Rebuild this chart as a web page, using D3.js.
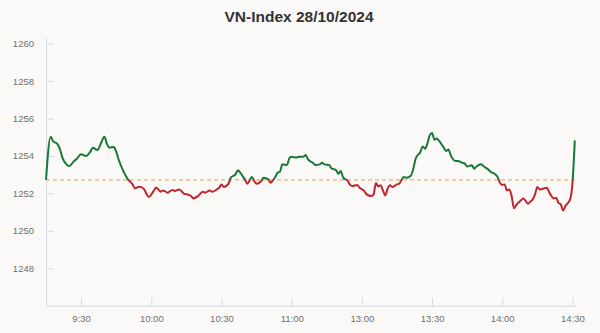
<!DOCTYPE html>
<html>
<head>
<meta charset="utf-8">
<script src="https://cdn.jsdelivr.net/npm/d3@7"></script>
<style>
  body { margin: 0; background: #faf9f7; }
  svg { display: block; font-family: "Liberation Sans", Arial, sans-serif; }
</style>
</head>
<body>
<div id="chart-area"></div>
<script>
// intraday VN-Index, one point per minute
const times = [
  "9:15","9:17","9:18","9:20","9:21","9:22","9:24","9:25","9:27","9:28",
  "9:30","9:32","9:34","9:35","9:37","9:38","9:40","9:41","9:42","9:44",
  "9:45","9:46","9:48","9:50","9:52","9:53","9:55","9:57","9:58","9:59",
  "10:01","10:02","10:03","10:04","10:05","10:07","10:09","10:10","10:12","10:14",
  "10:15","10:17","10:18","10:20","10:22","10:23","10:25","10:26","10:28","10:29",
  "10:30","10:31","10:33","10:34","10:36","10:37","10:38","10:39","10:40","10:41",
  "10:43","10:44","10:45","10:47","10:48","10:50","10:51","10:52","10:53","10:54",
  "10:55","10:56","10:58","10:59","11:00","11:02","11:03","11:05","11:06","11:07",
  "11:09","11:10","11:12","11:13","11:14","11:16","11:17","11:19","11:20","11:21",
  "11:22","11:24","11:25","11:26","11:28","11:29",
  "13:01","13:02","13:04","13:05","13:06","13:07","13:08","13:09","13:10","13:11",
  "13:12","13:13","13:15","13:16","13:17","13:18","13:19","13:21","13:22","13:23",
  "13:25","13:26","13:27","13:28","13:29","13:30","13:31","13:32","13:33","13:35",
  "13:36","13:37","13:38","13:40","13:41","13:43","13:44","13:45","13:47","13:48",
  "13:49","13:51","13:52","13:54","13:55","13:57","13:58","13:59","14:00","14:01",
  "14:02","14:03","14:04","14:05","14:06","14:08","14:09","14:11","14:12","14:13",
  "14:14","14:15","14:16","14:18","14:19","14:20","14:21","14:22","14:23","14:24",
  "14:25","14:26","14:27","14:29","14:30","14:31"
];
const values = [
  1252.72,1255.03,1254.80,1254.62,1254.35,1253.91,1253.52,1253.46,1253.73,1253.82,
  1254.09,1254.00,1254.23,1254.44,1254.32,1254.53,1255.03,1254.66,1254.44,1254.48,
  1254.23,1253.82,1253.20,1252.75,1252.48,1252.27,1252.36,1252.21,1251.95,1251.81,
  1252.13,1252.30,1252.21,1252.09,1252.16,1252.04,1252.18,1252.13,1252.21,1251.98,
  1251.95,1251.86,1251.73,1251.86,1252.09,1252.04,1252.16,1252.09,1252.21,1252.30,
  1252.48,1252.34,1252.52,1252.84,1253.02,1253.23,1253.11,1252.93,1252.75,1252.52,
  1252.88,1252.66,1252.52,1252.66,1252.84,1252.75,1252.57,1252.70,1252.88,1253.11,
  1253.16,1253.55,1253.52,1253.87,1253.95,1253.91,1253.95,1253.95,1254.05,1253.82,
  1253.64,1253.52,1253.55,1253.64,1253.55,1253.52,1253.34,1253.23,1253.05,1253.20,
  1252.84,1252.66,1252.45,1252.40,1252.45,1252.30,
  1252.13,1251.95,1251.86,1251.95,1252.55,1252.37,1252.43,1252.16,1251.89,1252.25,
  1252.43,1252.34,1252.48,1252.52,1252.73,1252.88,1252.84,1252.96,1253.32,1253.86,
  1254.21,1254.51,1254.39,1254.66,1255.10,1255.23,1254.87,1254.93,1254.80,1254.44,
  1254.27,1254.34,1254.03,1253.73,1253.73,1253.63,1253.59,1253.44,1253.50,1253.32,
  1253.44,1253.55,1253.45,1253.28,1253.16,1253.02,1252.88,1252.57,1252.45,1252.48,
  1252.16,1252.21,1251.86,1251.20,1251.38,1251.63,1251.73,1251.45,1251.56,1251.68,
  1251.95,1252.34,1252.21,1252.27,1252.30,1252.09,1251.86,1251.73,1251.77,1251.50,
  1251.41,1251.09,1251.33,1251.68,1252.55,1254.83
];
const refValue = 1252.72;  // previous close
const xTickLabels = ["9:30","10:00","10:30","11:00","13:00","13:30","14:00","14:30"];
const yTickValues = [1248, 1250, 1252, 1254, 1256, 1258, 1260];

const W = 600, H = 333;
const LEFT = 46, RIGHT = 575.5, TOP = 38, BOTTOM = 305.7;

// trading minutes since 9:15, lunch break (11:30 - 13:00) cut out
function tradeMin(s) {
  const [h, m] = s.split(":").map(Number);
  const t = h * 60 + m;
  return t >= 13 * 60 ? t - 13 * 60 + 135 : t - (9 * 60 + 15);
}

const data = times.map((t, i) => ({ t: tradeMin(t), v: values[i] }));

const svg = d3.select("#chart-area").append("svg")
  .attr("width", W)
  .attr("height", H);

svg.append("rect").attr("width", W).attr("height", H).attr("fill", "#faf9f7");

// title
svg.append("text")
  .attr("x", 299)
  .attr("y", 22)
  .attr("text-anchor", "middle")
  .attr("font-size", "15.5px")
  .attr("font-weight", "bold")
  .attr("fill", "#333")
  .text("VN-Index 28/10/2024");

const x = d3.scaleLinear().domain([0, 226.3]).range([LEFT, RIGHT]);
const y = d3.scaleLinear().domain([1246, 1260.3]).range([BOTTOM, TOP]);

// X axis
const xAxis = svg.append("g")
  .attr("transform", `translate(0, ${BOTTOM})`)
  .call(d3.axisBottom(x)
    .tickValues(xTickLabels.map(tradeMin))
    .tickFormat((d, i) => xTickLabels[i])
    .tickSizeInner(-8)
    .tickSizeOuter(0)
    .tickPadding(9.5));

// Y axis
const yAxis = svg.append("g")
  .attr("transform", `translate(${LEFT}, 0)`)
  .call(d3.axisLeft(y)
    .tickValues(yTickValues)
    .tickFormat(d3.format("d"))
    .tickSizeInner(-8)
    .tickSizeOuter(0)
    .tickPadding(12));

[xAxis, yAxis].forEach(a => {
  a.select(".domain").attr("stroke", "#d5dbe4");
  a.selectAll(".tick line").attr("stroke", "#d5dbe4");
  a.selectAll(".tick text")
    .attr("fill", "#707070")
    .attr("font-size", "9.5px")
    .attr("font-family", "Liberation Sans, Arial, sans-serif");
});

// reference line
svg.append("line")
  .attr("x1", LEFT).attr("x2", RIGHT)
  .attr("y1", y(refValue)).attr("y2", y(refValue))
  .attr("stroke", "#e6a23c")
  .attr("stroke-width", 1)
  .attr("stroke-dasharray", "4,3");

// green above the reference, red below
const defs = svg.append("defs");
defs.append("clipPath").attr("id", "clip-up")
  .append("rect")
  .attr("x", 0).attr("y", 0)
  .attr("width", W).attr("height", y(refValue));
defs.append("clipPath").attr("id", "clip-down")
  .append("rect")
  .attr("x", 0).attr("y", y(refValue))
  .attr("width", W).attr("height", H - y(refValue));

const line = d3.line()
  .x(d => x(d.t))
  .y(d => y(d.v))
  .curve(d3.curveMonotoneX);

svg.append("path")
  .datum(data)
  .attr("clip-path", "url(#clip-up)")
  .attr("fill", "none")
  .attr("stroke", "#18783a")
  .attr("stroke-width", 2)
  .attr("d", line);

svg.append("path")
  .datum(data)
  .attr("clip-path", "url(#clip-down)")
  .attr("fill", "none")
  .attr("stroke", "#c0262f")
  .attr("stroke-width", 2)
  .attr("d", line);
</script>
</body>
</html>
